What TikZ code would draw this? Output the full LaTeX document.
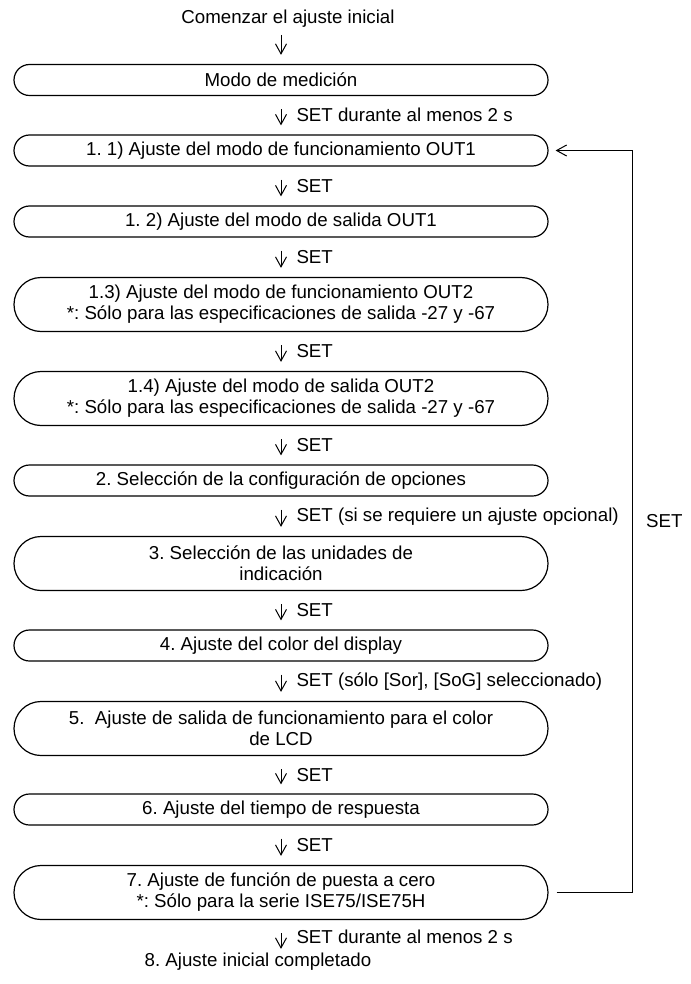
\documentclass[tikz,border=0pt]{standalone}
\usepackage{fontspec}
\setmainfont{Liberation Sans}
\usetikzlibrary{arrows.meta}
\frenchspacing

\tikzset{
  caja/.style={draw,line width=0.6pt,rounded corners=7.75pt,minimum width=267pt,minimum height=15.5pt,inner sep=0pt,align=center},
  cajados/.style={caja,rounded corners=13.5pt,minimum height=27pt},
  flecha/.style={line width=0.5pt,-{Straight Barb[length=5pt,width=5.5pt]},shorten <=6.5pt,shorten >=4.5pt},
  etiq/.style={right,xshift=7.5pt,inner sep=0pt},
}

\begin{document}
\begin{tikzpicture}[x=0.5pt,y=-0.5pt,font=\fontsize{9.35}{10.5}\selectfont]
\useasboundingbox (0,0) rectangle (690,984);
\node (inicio) at (288,19) {Comenzar el ajuste inicial};
\node[caja] (medir) at (281,80) {Modo de medición};
\node[caja] (p11) at (281,150.5) {1. 1) Ajuste del modo de funcionamiento OUT1};
\node[caja] (p12) at (281,221.5) {1. 2) Ajuste del modo de salida OUT1};
\node[cajados] (p13) at (281,304.5) {1.3) Ajuste del modo de funcionamiento OUT2\\*: Sólo para las especificaciones de salida -27 y -67};
\node[cajados] (p14) at (281,398.5) {1.4) Ajuste del modo de salida OUT2\\*: Sólo para las especificaciones de salida -27 y -67};
\node[caja] (p2) at (281,480.5) {2. Selección de la configuración de opciones};
\node[cajados] (p3) at (281,563.5) {3. Selección de las unidades de\\indicación};
\node[caja] (p4) at (281,645.5) {4. Ajuste del color del display};
\node[cajados] (p5) at (281,728.5) {5.\ \ Ajuste de salida de funcionamiento para el color\\de LCD};
\node[caja] (p6) at (281,809.5) {6. Ajuste del tiempo de respuesta};
\node[cajados] (p7) at (281,892.5) {7. Ajuste de función de puesta a cero\\*: Sólo para la serie ISE75/ISE75H};
\node[inner sep=0pt] (fin) at (258,962) {8. Ajuste inicial completado};

% flechas hacia abajo
\draw[flecha,shorten <=0pt] (inicio.south -| medir.north) -- (medir.north);
\draw[flecha] (medir) -- node[etiq] (s0) {SET durante al menos 2 s} (p11);
\draw[flecha] (p11) -- node[etiq] (s1) {SET} (p12);
\draw[flecha] (p12) -- node[etiq] (s2) {SET} (p13);
\draw[flecha] (p13) -- node[etiq] (s3) {SET} (p14);
\draw[flecha] (p14) -- node[etiq] (s4) {SET} (p2);
\draw[flecha] (p2) -- node[etiq] (s5) {SET (si se requiere un ajuste opcional)} (p3);
\draw[flecha] (p3) -- node[etiq] (s6) {SET} (p4);
\draw[flecha] (p4) -- node[etiq] (s7) {SET (sólo [Sor], [SoG] seleccionado)} (p5);
\draw[flecha] (p5) -- node[etiq] (s8) {SET} (p6);
\draw[flecha] (p6) -- node[etiq] (s9) {SET} (p7);
\draw[flecha,shorten >=2pt] (p7) -- node[etiq] (s10) {SET durante al menos 2 s} (p7.south |- fin.north);

% vuelta al paso 1.1
\draw[flecha,shorten <=4pt,shorten >=3.5pt] (p7.east) -- ++(84,0) |- node[etiq,pos=0.25,xshift=-1pt] (sv) {SET} (p11.east);
\end{tikzpicture}
\end{document}
